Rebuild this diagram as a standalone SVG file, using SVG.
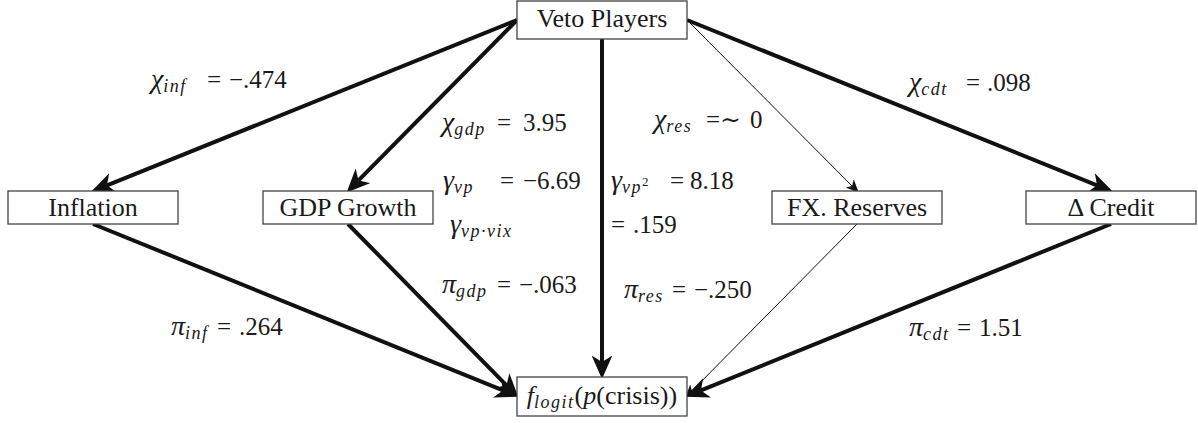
<svg xmlns="http://www.w3.org/2000/svg" width="1198" height="423" viewBox="0 0 1198 423">
<style>
.box{fill:#fff;stroke:#444;stroke-width:1.3}
.lbl{font-family:'Liberation Serif','DejaVu Serif',serif;font-size:26px;fill:#1a1a1a;text-anchor:middle}
.m{font-family:'Liberation Serif','DejaVu Serif',serif;font-size:25px;fill:#1a1a1a}
.i{font-style:italic}
.g{font-style:italic;font-size:28px}
.s{font-size:18px;font-style:italic;letter-spacing:1.5px}
.ss{font-size:13px}
.thick{fill:none;stroke:#111;stroke-width:4}
.thin{fill:none;stroke:#111;stroke-width:1}
</style>
<defs>
<marker id="ah" markerUnits="userSpaceOnUse" markerWidth="26" markerHeight="21" viewBox="0 0 20 16" refX="5" refY="8" orient="auto">
<path d="M0,0 L18,8 L0,16 L5,8 z" fill="#111"/>
</marker>
<marker id="ahs" markerUnits="userSpaceOnUse" markerWidth="14" markerHeight="12" viewBox="0 0 12 10" refX="3" refY="5" orient="auto">
<path d="M0,0 L11,5 L0,10 L3,5 z" fill="#111"/>
</marker>
</defs>
<g id="connectors">
<path class="thick" d="M517,20 L107,185.3" marker-end="url(#ah)"/>
<path class="thick" d="M517,20 L358.5,180.4" marker-end="url(#ah)"/>
<path class="thick" d="M602,39 L602,362" marker-end="url(#ah)"/>
<path class="thin" d="M687,20 L852.1,186" marker-end="url(#ahs)"/>
<path class="thick" d="M687,20 L1097,185.3" marker-end="url(#ah)"/>
<path class="thick" d="M93,224 L503,390.4" marker-end="url(#ah)"/>
<path class="thick" d="M348,224 L506.5,385.3" marker-end="url(#ah)"/>
<path class="thin" d="M857,224 L691.9,391" marker-end="url(#ahs)"/>
<path class="thick" d="M1111,224 L701,390.4" marker-end="url(#ah)"/>
</g>
<g id="veto"><rect class="box" x="517" y="1" width="170" height="38"/><text class="lbl" x="602" y="27">Veto Players</text></g>
<g id="inflation"><rect class="box" x="8" y="191" width="170" height="33"/><text class="lbl" x="93" y="216">Inflation</text></g>
<g id="gdp"><rect class="box" x="263" y="191" width="170" height="33"/><text class="lbl" x="348" y="216">GDP Growth</text></g>
<g id="fx"><rect class="box" x="772" y="191" width="170" height="33"/><text class="lbl" x="857" y="216">FX. Reserves</text></g>
<g id="credit"><rect class="box" x="1026" y="191" width="170" height="33"/><text class="lbl" x="1111" y="216">Δ Credit</text></g>
<g id="crisis"><rect class="box" x="517" y="377" width="170" height="39"/><text class="lbl" x="602" y="404"><tspan class="i">f</tspan><tspan class="s" dy="4">logit</tspan><tspan dy="-4">(</tspan><tspan class="i">p</tspan>(crisis))</text></g>
<g id="labels">
<text class="m" x="151" y="88"><tspan class="g">χ</tspan><tspan class="s" dy="4">inf</tspan><tspan x="207" dy="-4">=</tspan><tspan x="229">−.474</tspan></text>
<text class="m" x="442" y="131"><tspan class="g">χ</tspan><tspan class="s" dy="4">gdp</tspan><tspan x="497" dy="-4">=</tspan><tspan x="523">3.95</tspan></text>
<text class="m" x="654" y="128"><tspan class="g">χ</tspan><tspan class="s" dy="4">res</tspan><tspan x="706" dy="-4">=∼</tspan><tspan x="750">0</tspan></text>
<text class="m" x="909" y="91"><tspan class="g">χ</tspan><tspan class="s" dy="4">cdt</tspan><tspan x="966" dy="-4">=</tspan><tspan x="987">.098</tspan></text>
<text class="m" x="443" y="189"><tspan class="g">γ</tspan><tspan class="s" dy="4">vp</tspan><tspan x="500" dy="-4">=</tspan><tspan x="523">−6.69</tspan></text>
<text class="m" x="611" y="189"><tspan class="g">γ</tspan><tspan class="s" dy="4">vp</tspan><tspan class="ss" dy="-7">2</tspan><tspan x="670" dy="3">=</tspan><tspan x="690">8.18</tspan></text>
<text class="m" x="450" y="233"><tspan class="g">γ</tspan><tspan class="s" dy="4">vp·vix</tspan></text>
<text class="m" x="611" y="233">=<tspan x="633">.159</tspan></text>
<text class="m" x="442" y="293"><tspan class="g">π</tspan><tspan class="s" dy="4">gdp</tspan><tspan x="497" dy="-4">=</tspan><tspan x="519">−.063</tspan></text>
<text class="m" x="171" y="335"><tspan class="g">π</tspan><tspan class="s" dy="4">inf</tspan><tspan x="217" dy="-4">=</tspan><tspan x="239">.264</tspan></text>
<text class="m" x="624" y="298"><tspan class="g">π</tspan><tspan class="s" dy="4">res</tspan><tspan x="672" dy="-4">=</tspan><tspan x="694">−.250</tspan></text>
<text class="m" x="909" y="336"><tspan class="g">π</tspan><tspan class="s" dy="4">cdt</tspan><tspan x="957" dy="-4">=</tspan><tspan x="979">1.51</tspan></text>
</g>
</svg>
